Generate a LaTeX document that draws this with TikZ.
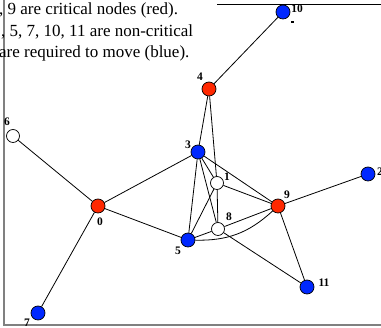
\documentclass[tikz,border=0pt]{standalone}
\usepackage{fontspec}
\setmainfont{Liberation Serif}
\definecolor{critred}{RGB}{255,40,0}
\definecolor{moveblue}{RGB}{0,40,255}
\definecolor{framegray}{RGB}{128,128,128}
\begin{document}
\begin{tikzpicture}[x=1pt,y=-1pt,
  vtx/.style={circle,draw=black,line width=0.7pt,minimum size=14pt,inner sep=0pt},
  crit/.style={vtx,fill=critred},
  mov/.style={vtx,fill=moveblue},
  free/.style={vtx,fill=white,minimum size=13pt},
  lab/.style={font=\fontsize{11.5}{11.5}\selectfont\bfseries,inner sep=0pt},
  edge/.style={line width=0.8pt},
  caption/.style={font=\fontsize{17}{17}\selectfont,inner sep=0pt,anchor=base west}]
\useasboundingbox (0,0) rectangle (381,328);
\fill[white] (0,0) rectangle (381,328);
% frame
\draw[framegray,line width=1.5pt] (4,0) -- (4,325) -- (381,325);
\draw[black,line width=0.8pt] (217,4) -- (381,4);
% caption
\node[caption] (t1) at (-1,15) {, 9 are critical nodes (red).};
\node[caption] (t2) at (1,37) {, 5, 7, 10, 11 are non-critical};
\node[caption] (t3) at (-1,58) {are required to move (blue).};
% nodes
\node[crit] (n0) at (98,206) {};
\node[free] (n1) at (217,183) {};
\node[mov]  (n2) at (368,174) {};
\node[mov]  (n3) at (198,152) {};
\node[crit] (n4) at (209,89) {};
\node[mov]  (n5) at (188,240) {};
\node[free] (n6) at (13,136) {};
\node[mov]  (n7) at (38,313) {};
\node[free] (n8) at (218,229) {};
\node[crit] (n9) at (278,206) {};
\node[mov]  (n10) at (283,12) {};
\node[mov]  (n11) at (307,287) {};
% labels
\node[lab] (l0) at (100,222) {0};
\node[lab] (l1) at (227,177) {1};
\node[lab] (l2) at (380,172) {2};
\node[lab] (l3) at (188,145) {3};
\node[lab] (l4) at (200,77) {4};
\node[lab] (l5) at (178,251) {5};
\node[lab] (l6) at (7,122) {6};
\node[lab] (l7) at (27,323) {7};
\node[lab] (l8) at (229,217) {8};
\node[lab] (l9) at (287,195) {9};
\node[lab] (l10) at (297,9) {10};
\node[lab] (l11) at (324,283) {11};
\fill (291,21.5) rectangle (293.5,23);
% edges
\draw[edge] (n10) -- (n4);
\draw[edge] (n4) -- (n3);
\draw[edge] (n4) -- (n1);
\draw[edge] (n1) -- (n8);
\draw[edge] (n6) -- (n0);
\draw[edge] (n0) -- (n3);
\draw[edge] (n0) -- (n5);
\draw[edge] (n0) -- (n7);
\draw[edge] (n3) -- (n5);
\draw[edge] (n3) -- (n1);
\draw[edge] (n3) -- (n9);
\draw[edge] (n3) -- (n8);
\draw[edge] (n1) -- (n5);
\draw[edge] (n1) -- (n9);
\draw[edge] (n8) -- (n9);
\draw[edge] (n5) -- (n8);
\draw[edge] (n5) to[bend right=22] (n9);
\draw[edge] (n8) -- (n11);
\draw[edge] (n9) -- (n11);
\draw[edge] (n9) -- (n2);
\end{tikzpicture}
\end{document}
